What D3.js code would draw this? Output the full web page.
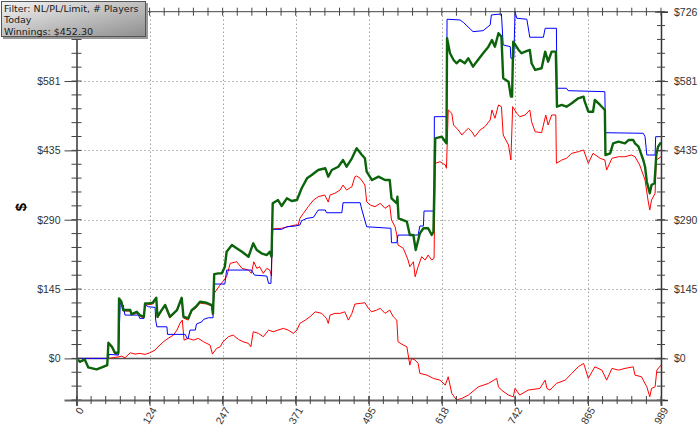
<!DOCTYPE html>
<html><head><meta charset="utf-8">
<script src="https://cdn.jsdelivr.net/npm/d3@7"></script>
<style>body{margin:0;background:#fff;}svg{display:block;}</style>
</head><body><div id="chart"></div>
<script>
// ---- data ----
const xTickValues = [0, 123.625, 247.25, 370.875, 494.5, 618.125, 741.75, 865.375, 989];
const xTickLabels = ["0", "124", "247", "371", "495", "618", "742", "865", "989"];
const yTickValues = [0, 145.2, 290.4, 435.6, 580.8, 726];
const yTickLabels = ["$0", "$145", "$290", "$435", "$581", "$726"];
const legendLines = ["Filter: NL/PL/Limit, # Players", "Today", "Winnings: $452.30"];

const greenHands = [0,6,14,20,34,45,52,54,60,65,71,72,76,79,91,93,102,107,114,116,122,129,135,137,144,150,158,170,178,181,189,195,202,209,220,229,231,233,240,246,251,254,263,271,280,291,299,305,313,322,327,330,332,341,347,356,364,373,381,390,398,409,421,426,432,443,451,457,466,474,483,488,491,500,511,522,530,533,542,543,545,559,564,570,574,581,587,595,601,604,607,618,624,626,627,632,638,643,649,657,663,671,677,688,697,703,708,714,719,722,731,735,737,739,748,753,759,767,770,776,787,793,798,804,811,813,821,829,838,849,858,860,866,874,877,886,894,895,903,908,917,928,934,942,945,951,959,962,965,970,973,978,981,984,989];
const greenValues = [0,-7.1,-2.1,-18.9,-23.0,-17.6,-14.0,32.7,24.3,11.7,11.7,125.7,118.6,101.2,101.2,92.8,97.6,90.7,87.2,115.2,115.2,116.5,127.0,87.2,101.2,111.7,87.2,101.2,127.0,87.2,83.8,101.2,108.1,118.6,116.5,111.7,94.3,176.6,178.1,178.1,191.9,223.3,237.4,230.5,223.3,212.9,240.9,226.9,220.0,216.4,223.3,212.9,324.7,331.6,319.1,335.2,329.5,331.6,356.2,377.1,384.0,394.5,398.1,380.5,394.5,401.4,415.4,401.4,419.0,439.9,425.9,419.0,390.9,373.5,380.5,373.5,373.5,335.2,324.7,338.6,293.3,286.2,258.3,258.3,226.9,261.9,272.4,272.4,258.3,265.2,460.9,464.3,453.8,450.4,670.4,639.0,624.9,618.0,624.9,618.0,628.5,610.9,621.4,639.0,652.8,666.8,652.8,680.9,673.8,586.6,579.5,548.1,548.1,663.3,645.9,639.0,642.3,645.9,618.0,604.0,607.6,642.3,621.4,642.3,642.3,527.1,530.7,527.1,534.2,544.7,548.1,537.6,516.6,516.6,541.1,530.7,520.2,425.9,429.5,450.4,453.8,450.4,457.3,457.3,450.4,443.3,415.4,401.4,370.0,345.7,363.1,366.6,425.9,443.3,452.3];

const blueHands = [0,54,55,71,74,79,82,105,107,114,116,122,133,134,136,153,154,184,187,189,192,201,203,212,215,223,231,233,251,254,296,301,322,325,329,332,347,356,370,378,381,390,401,409,421,423,449,451,480,483,491,532,533,542,544,578,581,587,588,605,605.5,626,627,649,655,671,688,700,702,719,722,734,735,740,742,745,762,767,790,793,812,813,829,832,894,895,959,962,965,979,980,989];
const blueValues = [0,0,8.4,6.9,115.2,111.7,90.7,90.7,83.8,83.8,111.7,108.1,106.8,80.2,66.2,66.2,50.3,50.3,41.9,41.9,59.3,59.3,71.9,76.7,81.7,85.1,85.1,155.7,155.7,185.0,185.0,174.5,172.4,157.1,157.1,270.3,270.3,275.7,277.2,279.3,288.3,293.3,295.4,310.7,310.7,305.0,305.0,326.0,326.0,310.7,275.7,272.4,242.2,242.2,258.3,258.3,277.2,277.2,308.6,308.6,506.2,506.2,710.2,708.7,703.1,684.2,686.3,698.3,719.2,721.3,656.4,652.8,628.5,628.5,726,712.3,710.2,672.5,672.5,691.3,691.3,565.7,565.7,560.6,558.5,472.6,471.4,464.3,425.9,425.9,464.3,464.3];

const redHighHands = [0,6,14,20,34,45,52,54,60,65,71,72,76,79,91,93,102,107,114,116,129,135,137,144,150,158,170,178,181,189,195,202,209,220,229,230,233,243,254,260,271,280,291,296,300,305,310,316,322,327,330,331,347,358,370,375,378,384,392,401,409,420,426,429,437,446,451,457,466,471,474,480,488,491,497,505,514,522,530,533,539,542,544,553,561,564,570,573,578,584,590,595,601,605,607,615,624,626,629,635,638,646,652,657,663,669,674,683,691,700,703,708,714,719,722,731,735,738,745,750,759,767,770,776,787,794,798,804,811,812,821,829,838,849,858,866,874,886,894,897,906,917,928,939,945,953,962,967,970,973,979,981,989];
const redHighValues = [0,-7.8,-3.6,-19.3,-23.5,-18.2,-15.1,30.0,21.6,9.0,9.0,122.1,115.9,99.1,99.1,90.7,94.9,88.6,84.4,111.7,113.8,124.2,84.4,99.1,109.6,84.4,99.1,124.2,84.4,80.2,99.1,105.4,115.9,113.8,109.6,90.7,136.2,153.7,171.0,199.0,202.4,188.6,185.0,178.1,202.4,188.6,191.9,178.1,188.6,185.0,172.4,270.9,272.4,275.7,279.3,279.3,293.3,303.8,317.6,331.6,338.6,342.1,327.4,342.1,345.7,352.6,363.1,352.6,359.5,380.5,381.9,377.1,363.1,328.1,321.2,317.6,324.7,314.3,321.2,289.7,275.7,258.3,237.4,230.5,206.0,192.0,202.4,171.0,191.9,212.9,206.0,216.4,206.0,209.5,408.5,411.9,405.0,398.1,520.2,513.3,488.8,478.3,467.8,474.7,481.9,474.7,464.3,478.3,485.2,499.2,520.2,502.8,530.7,527.1,467.8,446.9,415.4,527.1,513.3,506.2,509.7,520.2,495.7,474.7,472.6,509.7,488.8,509.7,509.7,408.5,415.4,419.0,429.5,432.8,436.4,408.5,429.5,419.0,415.4,394.5,419.0,422.3,422.3,425.9,422.3,404.9,373.5,331.6,310.7,331.6,345.7,415.4,422.3];

const redLowHands = [0,54,72,76,82,91,99,107,116,124,133,138,147,155,164,170,175,179,182,189,198,206,215,226,230,237,243,248,257,265,274,282,291,295,299,308,316,325,333,341,350,358,367,373,378,387,395,404,415,423,426,429,437,446,454,460,466,471,480,488,494,499,508,514,522,530,536,542,544,553,559,564,567,573,578,581,593,604,615,624,629,635,643,652,663,680,697,711,714,719,731,739,742,750,764,784,793,796,801,812,827,838,849,858,860,866,877,889,897,906,917,928,942,945,956,965,970,973,979,982,989];
const redLowValues = [0,0,3.4,4.8,1.3,11.7,9.0,10.5,8.4,11.7,17.4,24.3,34.8,41.9,48.8,59.3,73.3,80.2,38.3,41.9,38.3,41.9,34.8,27.9,9.0,21.0,24.3,34.8,45.3,48.8,39.8,34.8,31.4,24.3,55.7,52.4,45.3,59.3,55.7,59.3,62.9,59.3,52.4,59.3,73.3,80.2,87.2,97.6,94.3,83.8,73.3,90.7,94.3,94.3,97.6,80.2,94.3,113.8,115.2,116.5,104.8,97.6,101.2,104.8,94.3,101.2,87.2,80.2,34.8,27.9,24.3,-14.0,0,-3.6,-10.5,-31.4,-35.0,-41.9,-45.5,-55.9,-38.5,-73.3,-87.0,-83.8,-76.9,-59.5,-52.4,-41.9,-59.5,-66.4,-76.9,-80.4,-62.9,-76.9,-66.4,-62.9,-45.5,-62.9,-66.4,-52.4,-45.5,-31.4,-17.6,-10.5,-17.6,-41.9,-17.6,-24.5,-45.5,-21.0,-24.5,-21.0,-17.6,-35.0,-38.5,-59.5,-80.4,-62.9,-59.5,-24.5,-14.0];

// ---- layout ----
(function () {
const W = 700, H = 439;
const pL = 76.5, pR = 661, pT = 11.7, pB = 400;
const svg = d3.select("#chart").append("svg").attr("width", W).attr("height", H);

const x = d3.scaleLinear().domain([0, 989]).range([pL, pR]);
const y = d3.scaleLinear().domain([-87.12, 726]).range([pB, pT]);

const font = "'Liberation Sans', Arial, sans-serif";

// gridlines
const grid = svg.append("g");
grid.selectAll("line.vg").data(xTickValues.slice(1, 8)).join("line")
  .attr("x1", d => Math.round(x(d)) + 0.5).attr("x2", d => Math.round(x(d)) + 0.5).attr("y1", pT).attr("y2", pB)
  .attr("stroke", "#777").attr("stroke-width", 1).attr("stroke-dasharray", "1,3");
grid.selectAll("line.hg").data(yTickValues.slice(1, 5)).join("line")
  .attr("x1", pL).attr("x2", pR).attr("y1", d => Math.round(y(d)) + 0.5).attr("y2", d => Math.round(y(d)) + 0.5)
  .attr("stroke", "#777").attr("stroke-width", 1).attr("stroke-dasharray", "1,3");
// zero line
svg.append("line").attr("x1", pL).attr("x2", pR).attr("y1", y(0)).attr("y2", y(0))
  .attr("stroke", "#555").attr("stroke-width", 1.5);

// series
function draw(hands, vals, color, width) {
  const pts = hands.map((h, i) => [h, vals[i]]);
  svg.append("path").datum(pts)
    .attr("fill", "none").attr("stroke", color).attr("stroke-width", width)
    .attr("stroke-linejoin", "round")
    .attr("d", d3.line().x(d => x(d[0])).y(d => y(d[1])));
}
draw(redLowHands, redLowValues, "#ff0000", 1);
draw(redHighHands, redHighValues, "#ff0000", 1);
draw(blueHands, blueValues, "#0000ff", 1);
draw(greenHands, greenValues, "#0b640b", 2.4);

const axisColor = "#444";
const minorY = d3.range(-3, 26).map(i => i * 29.04);
const minorX = d3.range(0, 41).map(i => i * 989 / 40);

// left axis (top label hidden behind the legend box in the original)
const yAxisL = d3.axisLeft(y).tickValues(yTickValues)
  .tickFormat((d, i) => i === yTickValues.length - 1 ? "" : yTickLabels[i]).tickSize(12).tickPadding(4);
const gl = svg.append("g").attr("transform", `translate(${pL},0)`).call(yAxisL);
gl.select(".domain").attr("stroke", "#666").attr("stroke-width", 2);
gl.selectAll(".tick line").attr("stroke", axisColor);
gl.selectAll(".tick text").attr("font-family", font).attr("font-size", 10.5).attr("fill", "#333");
svg.append("g").selectAll("line").data(minorY).join("line")
  .attr("x1", pL - 5).attr("x2", pL + 5).attr("y1", d => y(d)).attr("y2", d => y(d)).attr("stroke", axisColor);

// right axis
const yAxisR = d3.axisRight(y).tickValues(yTickValues).tickFormat((d, i) => yTickLabels[i]).tickSize(7).tickPadding(6);
const gr = svg.append("g").attr("transform", `translate(${pR},0)`).call(yAxisR);
gr.select(".domain").attr("stroke", "#333").attr("stroke-width", 1.5);
gr.selectAll(".tick line").attr("stroke", axisColor).attr("x1", -6);
gr.selectAll(".tick text").attr("font-family", font).attr("font-size", 10.5).attr("fill", "#333");
svg.append("g").selectAll("line").data(minorY).join("line")
  .attr("x1", pR - 4).attr("x2", pR + 4).attr("y1", d => y(d)).attr("y2", d => y(d)).attr("stroke", axisColor);

// bottom axis
const xAxisB = d3.axisBottom(x).tickValues(xTickValues).tickFormat((d, i) => xTickLabels[i]).tickSize(6).tickPadding(3);
const gb = svg.append("g").attr("transform", `translate(0,${pB})`).call(xAxisB);
gb.select(".domain").attr("stroke", "#666").attr("stroke-width", 2);
gb.selectAll(".tick line").attr("stroke", axisColor).attr("y1", -4);
gb.selectAll(".tick text").attr("font-family", font).attr("font-size", 10.5).attr("fill", "#333")
  .attr("text-anchor", "end").attr("dy", "0.35em")
  .attr("transform", "translate(4,8) rotate(-60)").attr("x", 0).attr("y", 0);
svg.append("g").selectAll("line").data(minorX).join("line")
  .attr("x1", d => x(d)).attr("x2", d => x(d)).attr("y1", pB - 4).attr("y2", pB + 4).attr("stroke", axisColor);

// top axis
svg.append("line").attr("x1", pL).attr("x2", pR).attr("y1", pT).attr("y2", pT).attr("stroke", "#444").attr("stroke-width", 1);
svg.append("g").selectAll("line").data(minorX).join("line")
  .attr("x1", d => x(d)).attr("x2", d => x(d)).attr("y1", pT - 4).attr("y2", pT + 4).attr("stroke", axisColor);

// y title
svg.append("text").attr("transform", "translate(20,207) rotate(-90)")
  .attr("text-anchor", "middle").attr("dominant-baseline", "central")
  .attr("font-family", font).attr("font-weight", "bold").attr("font-size", 15).attr("fill", "#000").text("$");

// legend box
const defs = svg.append("defs");
const lg = defs.append("linearGradient").attr("id", "lgd").attr("x1", 0).attr("y1", 0).attr("x2", 1).attr("y2", 1);
lg.append("stop").attr("offset", "0%").attr("stop-color", "#f4f4f4");
lg.append("stop").attr("offset", "100%").attr("stop-color", "#8e8e8e");
svg.append("rect").attr("x", 3).attr("y", 3).attr("width", 145).attr("height", 36).attr("fill", "#999");
svg.append("rect").attr("x", 1.5).attr("y", 1.5).attr("width", 144).attr("height", 35)
  .attr("fill", "url(#lgd)").attr("stroke", "#555").attr("stroke-width", 1);
svg.append("g").selectAll("text").data(legendLines).join("text")
  .attr("x", 4).attr("y", (d, i) => 12 + i * 11.4)
  .attr("font-family", "'DejaVu Sans', Verdana, sans-serif").attr("font-size", 9.5).attr("fill", "#1a1a1a")
  .text(d => d);
})();
</script></body></html>
